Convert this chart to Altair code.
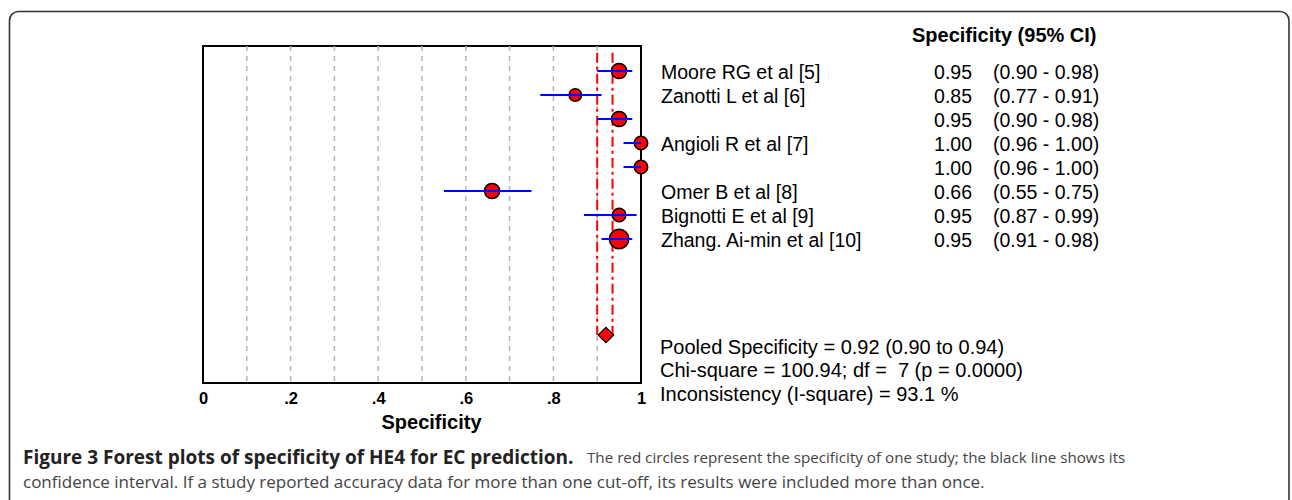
import altair as alt
import pandas as pd

# ---- data ----
studies = ["Moore RG et al [5]", "Zanotti L et al [6]", "", "Angioli R et al [7]", "",
           "Omer B et al [8]", "Bignotti E et al [9]", "Zhang. Ai-min et al [10]"]
spec = [0.95, 0.85, 0.95, 1.00, 1.00, 0.66, 0.95, 0.95]
ci_lo = [0.90, 0.77, 0.90, 0.96, 0.96, 0.55, 0.87, 0.91]
ci_hi = [0.98, 0.91, 0.98, 1.00, 1.00, 0.75, 0.99, 0.98]
weight = [231, 156, 231, 182, 182, 231, 182, 380]
rows = list(range(len(spec)))

pooled = 0.92
pooled_lo = 0.90
pooled_hi = 0.935
pooled_row = 11
line_top_row = -0.76

grid_vals = [0.1, 0.2, 0.3, 0.4, 0.5, 0.6, 0.7, 0.8, 0.9]
tick_vals = [0, 0.2, 0.4, 0.6, 0.8, 1]

stats_lines = ["Pooled Specificity = 0.92 (0.90 to 0.94)",
               "Chi-square = 100.94; df =\u00a0\u00a07 (p = 0.0000)",
               "Inconsistency (I-square) = 93.1 %"]
stats_rows = [11.55, 12.5, 13.5]
header = "Specificity (95% CI)"
header_row = -1.44

cap_bold = "Figure 3 Forest plots of specificity of HE4 for EC prediction."
cap_rest1 = "The red circles represent the specificity of one study; the black line shows its"
cap_line2 = ("confidence interval. If a study reported accuracy data for more than one cut-off, "
             "its results were included more than once.")

df = pd.DataFrame({
    "row": rows, "study": studies, "spec": spec, "lo": ci_lo, "hi": ci_hi, "w": weight,
    "val": [f"{v:.2f}" for v in spec],
    "ci": [f"({a:.2f} - {b:.2f})" for a, b in zip(ci_lo, ci_hi)],
})
grid_df = pd.DataFrame({"x": grid_vals})
red_df = pd.DataFrame({"x": [pooled_lo, pooled_hi], "y1": [line_top_row] * 2, "y2": [pooled_row] * 2})
pool_df = pd.DataFrame({"x": [pooled], "row": [pooled_row]})
stats_df = pd.DataFrame({"t": stats_lines, "row": stats_rows})
head_df = pd.DataFrame({"t": [header], "row": [header_row]})

W, H = 438, 337
F = "Liberation Sans"

xs = alt.Scale(domain=[0, 1], nice=False, zero=False)
ys = alt.Scale(domain=[-1.0417, 13.0], reverse=True, nice=False, zero=False)

x_axis = alt.Axis(values=tick_vals,
                  labelExpr="datum.value == 0 ? '0' : datum.value == 1 ? '1' : replace(format(datum.value, '.1f'), '0.', '.')",
                  labelFont=F, labelFontWeight="bold", labelFontSize=16.5, labelColor="black",
                  labelPadding=7, ticks=False, domain=False, grid=False,
                  title="Specificity", titleFont=F, titleFontWeight="bold", titleFontSize=20,
                  titleColor="black", titleY=45, titleX=228, titleBaseline="alphabetic", titleAlign="center",
                  labelOverlap=False, labelFlush=False)

grid = alt.Chart(grid_df).mark_rule(color="#b5b5b5", strokeWidth=1.5, strokeDash=[5, 5]).encode(
    x=alt.X("x:Q", scale=xs, axis=x_axis))

red = alt.Chart(red_df).mark_rule(color="#ff0000", strokeWidth=2, strokeDash=[10, 4, 3, 4]).encode(
    x=alt.X("x:Q", scale=xs), y=alt.Y("y1:Q", scale=ys, axis=None), y2="y2:Q")

pts = alt.Chart(df).mark_point(shape="circle", filled=True, fill="#ff0000", stroke="black",
                               strokeWidth=1.5, opacity=1).encode(
    x=alt.X("spec:Q", scale=xs), y=alt.Y("row:Q", scale=ys, axis=None),
    size=alt.Size("w:Q", scale=None, legend=None))

cis = alt.Chart(df).mark_rule(color="#0000ff", strokeWidth=2).encode(
    x=alt.X("lo:Q", scale=xs), x2="hi:Q", y=alt.Y("row:Q", scale=ys, axis=None))

diamond = alt.Chart(pool_df).mark_point(shape="diamond", filled=True, fill="#ff0000", stroke="black",
                                        strokeWidth=1.2, size=240, opacity=1).encode(
    x=alt.X("x:Q", scale=xs), y=alt.Y("row:Q", scale=ys, axis=None))

txt_kw = dict(font=F, fontSize=19.5, color="black", baseline="middle", dy=2)
lab = alt.Chart(df).mark_text(align="left", **txt_kw).encode(
    x=alt.value(458), y=alt.Y("row:Q", scale=ys, axis=None), text="study:N")
val = alt.Chart(df).mark_text(align="right", **txt_kw).encode(
    x=alt.value(769), y=alt.Y("row:Q", scale=ys, axis=None), text="val:N")
cit = alt.Chart(df).mark_text(align="left", **txt_kw).encode(
    x=alt.value(790), y=alt.Y("row:Q", scale=ys, axis=None), text="ci:N")
head = alt.Chart(head_df).mark_text(align="left", font=F, fontSize=20, fontWeight="bold",
                                    color="black", baseline="middle").encode(
    x=alt.value(709), y=alt.Y("row:Q", scale=ys, axis=None), text="t:N")
stats = alt.Chart(stats_df).mark_text(align="left", font=F, fontSize=20, color="black",
                                      baseline="middle").encode(
    x=alt.value(457), y=alt.Y("row:Q", scale=ys, axis=None), text="t:N")

one = alt.Data(values=[{"a": 1}])
frame = alt.Chart(one).mark_rect(fill=None, stroke="#333333", strokeWidth=1.6, cornerRadius=9).encode(
    x=alt.value(-193.5), x2=alt.value(1086), y=alt.value(-34.5), y2=alt.value(480))

CF = "Open Sans"
cap1 = alt.Chart(one).mark_text(text=cap_bold, font=CF, fontWeight="bold", fontSize=19, color="#222222",
                                align="left", baseline="middle").encode(x=alt.value(-180), y=alt.value(412))
cap2 = alt.Chart(one).mark_text(text=cap_rest1, font=CF, fontSize=15.2, color="#444444",
                                align="left", baseline="middle").encode(x=alt.value(384), y=alt.value(412))
cap3 = alt.Chart(one).mark_text(text=cap_line2, font=CF, fontSize=17, color="#444444",
                                align="left", baseline="middle").encode(x=alt.value(-180), y=alt.value(437))

chart = alt.layer(grid, red, pts, cis, diamond, lab, val, cit, head, stats, frame, cap1, cap2, cap3).properties(
    width=W, height=H,
    autosize=alt.AutoSizeParams(type="none"),
    padding={"left": 203, "top": 46, "right": 651, "bottom": 117},
).configure(background="white", view=alt.ViewConfig(stroke="black", strokeWidth=2))

chart.save("out.html", embed_options={"renderer": "svg", "actions": False})
